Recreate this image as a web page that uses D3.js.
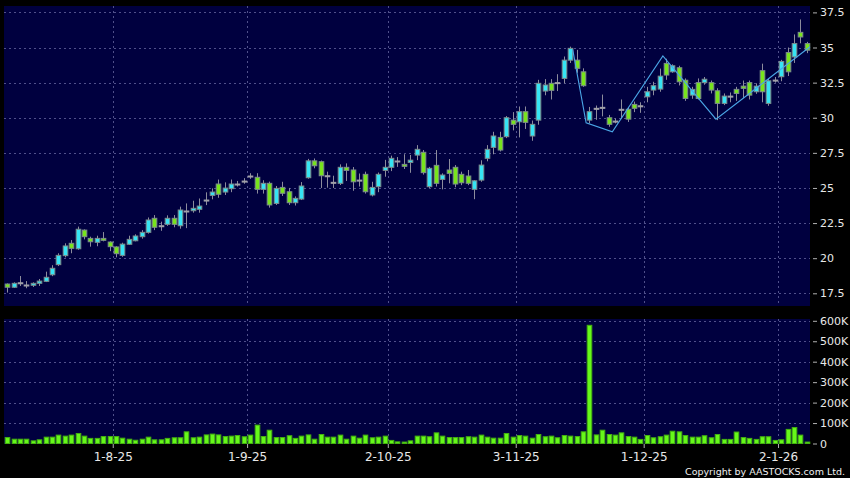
<!DOCTYPE html>
<html>
<head>
<meta charset="utf-8">
<script src="https://cdn.jsdelivr.net/npm/d3@7"></script>
<style>
body { margin: 0; background: #000; }
svg { display: block; }
</style>
</head>
<body>
<svg id="chart" width="850" height="478"></svg>
<script>
// daily OHLC (index 0 = first session shown)
var open = [18.16,17.93,18.25,18.09,18.07,18.21,18.35,18.82,19.54,20.18,
  21.06,20.67,22.0,21.41,21.13,21.41,21.15,20.8,20.2,20.99,
  21.24,21.53,21.84,22.84,22.31,22.41,22.84,22.31,23.36,23.38,
  23.48,24.14,24.47,25.28,24.71,24.95,25.28,25.49,25.85,25.76,
  24.9,25.33,23.9,25.04,24.73,23.95,24.21,25.73,26.93,26.87,
  25.87,25.4,25.33,26.47,26.28,25.56,25.97,24.5,25.09,26.25,
  26.47,26.92,26.68,26.82,27.34,27.54,25.09,26.61,25.61,26.28,
  26.47,25.97,25.85,24.9,25.56,27.11,27.89,28.6,28.65,29.83,
  29.71,30.43,28.7,29.83,31.9,32.45,32.5,32.8,34.1,34.1,
  33.27,29.83,30.67,30.74,30.0,29.76,30.6,30.6,30.95,30.85,
  31.49,31.97,32.04,33.87,33.27,33.56,32.67,31.61,32.5,32.5,
  32.5,31.92,31.02,31.54,32.02,32.25,32.5,31.85,33.35,31.02,
  32.68,32.92,34.64,34.33,36.08,35.28];
var high = [18.2,18.28,18.73,18.37,18.28,18.52,19.04,19.5,20.35,21.06,
  21.29,22.25,22.05,21.53,21.6,21.86,21.2,20.85,21.1,21.6,
  21.7,22.0,22.9,23.07,22.6,23.05,23.07,23.67,23.9,24.09,
  24.25,24.69,24.97,25.6,25.4,25.6,25.5,25.7,26.05,26.05,
  25.55,25.45,25.14,25.44,25.0,24.4,25.42,27.07,27.1,26.95,
  26.16,25.87,26.68,26.75,26.49,26.03,26.16,25.44,26.1,27.0,
  27.3,27.2,27.4,27.35,28.05,27.7,26.5,27.7,26.04,27.06,
  26.63,26.16,26.28,25.56,26.97,28.05,29.0,29.0,30.12,30.4,
  30.8,30.8,29.8,32.7,32.75,32.75,33.1,34.36,35.06,34.83,
  33.52,30.77,30.87,31.65,30.2,29.95,31.3,30.77,31.15,31.1,
  32.2,32.56,33.5,34.2,33.8,33.7,32.8,32.2,32.8,32.9,
  32.65,32.1,31.73,31.8,32.2,32.65,32.65,32.45,33.85,32.8,
  32.9,34.12,35.0,35.93,37.0,35.4];
var low = [17.55,17.88,18.02,17.86,17.95,18.02,18.3,18.72,19.44,20.06,
  20.35,20.6,21.34,20.82,20.85,21.2,20.5,20.06,20.1,20.95,
  21.2,21.39,21.75,22.0,21.95,22.3,22.2,22.1,22.14,23.24,
  23.24,23.78,24.19,24.3,24.5,24.7,25.1,25.3,25.65,24.6,
  24.6,23.6,23.79,24.43,23.79,23.75,24.14,25.66,26.4,25.0,
  25.02,25.0,25.21,25.5,24.8,25.1,24.6,24.4,24.7,25.8,
  26.2,26.5,26.35,26.08,26.98,25.95,25.0,25.1,24.9,25.33,
  25.05,25.2,25.2,24.2,25.44,26.9,27.4,27.6,28.55,29.1,
  28.6,29.2,28.36,29.5,31.6,31.3,31.9,32.45,33.9,33.2,
  32.2,29.6,29.85,30.1,29.36,29.6,29.95,29.7,30.4,30.35,
  31.1,31.6,31.85,32.7,33.2,32.3,31.2,31.35,31.3,32.35,
  31.73,29.83,30.9,31.1,31.2,31.4,31.3,31.7,31.1,30.85,
  32.5,32.6,32.97,33.9,35.3,34.6];
var close = [17.93,18.21,18.25,18.09,18.21,18.37,18.64,19.28,20.2,20.87,
  20.7,22.06,21.53,21.17,21.41,21.27,20.82,20.32,21.0,21.34,
  21.58,21.84,22.72,22.2,22.31,22.84,22.41,23.43,23.36,23.55,
  23.71,24.14,24.71,24.55,24.99,25.28,25.28,25.49,25.85,24.9,
  25.33,23.79,24.97,24.62,23.95,24.26,25.14,26.93,26.58,25.87,
  25.87,25.4,26.47,26.25,25.44,25.56,24.73,25.04,25.97,26.47,
  27.11,26.92,26.54,26.98,27.75,26.09,26.4,25.33,25.92,26.04,
  25.28,25.37,25.33,25.51,26.63,27.75,28.7,27.7,30.0,29.53,
  30.43,29.67,29.53,32.45,32.33,31.95,32.5,34.1,34.94,33.52,
  32.28,30.43,30.67,30.74,29.53,29.76,30.6,29.9,30.67,30.85,
  31.85,32.28,32.96,33.04,33.7,32.56,31.37,32.02,31.37,32.74,
  31.97,31.02,31.54,31.54,31.73,32.09,31.61,32.25,31.85,32.63,
  32.68,34.01,33.27,35.28,35.75,34.81];
// volume in thousands of shares
var volumeK = [29,21,21,21,13,18,31,31,41,36,
  41,49,36,25,25,34,34,34,26,21,
  16,21,31,18,18,25,28,28,57,28,
  31,42,46,42,34,36,39,33,41,90,
  34,65,29,29,38,25,36,42,21,44,
  31,31,41,21,36,26,41,28,31,36,
  15,8,7,13,36,36,33,52,36,29,
  29,29,33,31,41,31,26,26,49,31,
  39,36,26,44,33,36,28,39,36,34,
  57,578,42,65,44,41,52,34,31,20,
  39,28,33,41,60,57,39,31,31,38,
  28,44,20,20,56,29,25,20,33,33,
  15,18,69,78,41,7];

// zig-zag trend overlay (session index, price)
var zigIdx = [88.4, 90.5, 94.6, 102.5, 110.8, 125.5];
var zigVal = [34.87, 29.64, 29.0, 34.4, 29.9, 35.05];

var priceTicks = [17.5, 20, 22.5, 25, 27.5, 30, 32.5, 35, 37.5];
var volTicks = [0, 100000, 200000, 300000, 400000, 500000, 600000];
var volTickLabels = ["0", "100K", "200K", "300K", "400K", "500K", "600K"];
var dateIdx = [16, 37, 59, 79, 99, 120];
var dateLabels = ["1-8-25", "1-9-25", "2-10-25", "3-11-25", "1-12-25", "2-1-26"];

var n = close.length;
var left = 4, right = 810;
var svg = d3.select("#chart");
svg.append("rect").attr("width", 850).attr("height", 478).attr("fill", "#000");

var x = d3.scaleLinear().domain([-0.5, n - 0.5]).range([left, right]);
var y = d3.scaleLinear().domain([17.5, 37.5]).range([293.3, 12.4]);
var yv = d3.scaleLinear().domain([0, 600000]).range([443.5, 320.8]);

var gridCol = "#50508a";
var panelCol = "#00003f";

// panels
svg.append("rect").attr("x", left).attr("y", 6).attr("width", right - left).attr("height", 300).attr("fill", panelCol);
svg.append("rect").attr("x", left).attr("y", 319).attr("width", right - left).attr("height", 125).attr("fill", panelCol);

// grid
var grid = svg.append("g").attr("stroke", gridCol).attr("stroke-width", 1).attr("stroke-dasharray", "2,3");
grid.selectAll(".hp").data(priceTicks).enter().append("line")
  .attr("x1", left).attr("x2", right)
  .attr("y1", function(d) { return Math.round(y(d)) + 0.5; })
  .attr("y2", function(d) { return Math.round(y(d)) + 0.5; });
grid.selectAll(".hv").data(volTicks.slice(1)).enter().append("line")
  .attr("x1", left).attr("x2", right)
  .attr("y1", function(d) { return Math.round(yv(d)) + 0.5; })
  .attr("y2", function(d) { return Math.round(yv(d)) + 0.5; });
dateIdx.forEach(function(i) {
  var gx = Math.round(x(i + 0.5)) + 0.5;
  grid.append("line").attr("x1", gx).attr("x2", gx).attr("y1", 6).attr("y2", 306);
  grid.append("line").attr("x1", gx).attr("x2", gx).attr("y1", 319).attr("y2", 444);
});

// candles
var idx = d3.range(n);
var bw = 4.6;
var cg = svg.append("g");
cg.selectAll(".wick").data(idx).enter().append("line")
  .attr("x1", function(i) { return Math.round(x(i)) + 0.5; })
  .attr("x2", function(i) { return Math.round(x(i)) + 0.5; })
  .attr("y1", function(i) { return y(high[i]); })
  .attr("y2", function(i) { return y(low[i]); })
  .attr("stroke", "#8c8c9c").attr("stroke-width", 1);

function candleFill(i) {
  if (close[i] > open[i]) return "#36e4f4";
  if (close[i] < open[i]) return "#78e41c";
  return "#a0a0a8";
}
cg.selectAll(".body").data(idx).enter().append("rect")
  .attr("x", function(i) { return Math.round(x(i)) + 0.5 - bw / 2; })
  .attr("width", bw)
  .attr("y", function(i) { return y(Math.max(open[i], close[i])); })
  .attr("height", function(i) { return Math.max(1, Math.abs(y(open[i]) - y(close[i]))); })
  .attr("fill", candleFill)
  .attr("stroke", function(i) { return close[i] === open[i] ? "#a0a0a8" : "#7c8c8c"; })
  .attr("stroke-width", 1);

// zig-zag
svg.append("path")
  .datum(d3.range(zigIdx.length))
  .attr("fill", "none").attr("stroke", "#4aa6e6").attr("stroke-width", 1.1)
  .attr("d", d3.line().x(function(k) { return x(zigIdx[k]); }).y(function(k) { return y(zigVal[k]); }));

// volume bars
svg.append("g").selectAll("rect").data(idx).enter().append("rect")
  .attr("x", function(i) { return Math.round(x(i)) + 0.5 - bw / 2; })
  .attr("width", bw)
  .attr("y", function(i) { return yv(volumeK[i] * 1000); })
  .attr("height", function(i) { return yv(0) - yv(volumeK[i] * 1000); })
  .attr("fill", "#66f81a").attr("stroke", "#44b010").attr("stroke-width", 1);

// axes
var font = "'DejaVu Sans', Verdana, sans-serif";
function styleAxis(size) {
  return function(g) {
    g.select(".domain").remove();
    g.selectAll(".tick line").attr("stroke", "#b0b0b0");
    g.selectAll(".tick text").attr("fill", "#e8e8e8").style("font-family", font).style("font-size", size);
  };
}
svg.append("g").attr("transform", "translate(813,0)")
  .call(d3.axisRight(y).tickValues(priceTicks).tickSize(4).tickPadding(3).tickFormat(d3.format("")))
  .call(styleAxis("11px"));
svg.append("g").attr("transform", "translate(813,0)")
  .call(d3.axisRight(yv).tickValues(volTicks).tickSize(4).tickPadding(3)
    .tickFormat(function(d, k) { return volTickLabels[k]; }))
  .call(styleAxis("11px"));
svg.append("g").attr("transform", "translate(0,444)")
  .call(d3.axisBottom(x).tickValues(dateIdx.map(function(i) { return i + 0.5; })).tickSize(4).tickPadding(4)
    .tickFormat(function(d, k) { return dateLabels[k]; }))
  .call(styleAxis("12px"));

svg.append("text").attr("x", 845).attr("y", 475).attr("text-anchor", "end")
  .attr("fill", "#f0f0f0").style("font-family", font).style("font-size", "9.5px")
  .text("Copyright by AASTOCKS.com Ltd.");
</script>
</body>
</html>
